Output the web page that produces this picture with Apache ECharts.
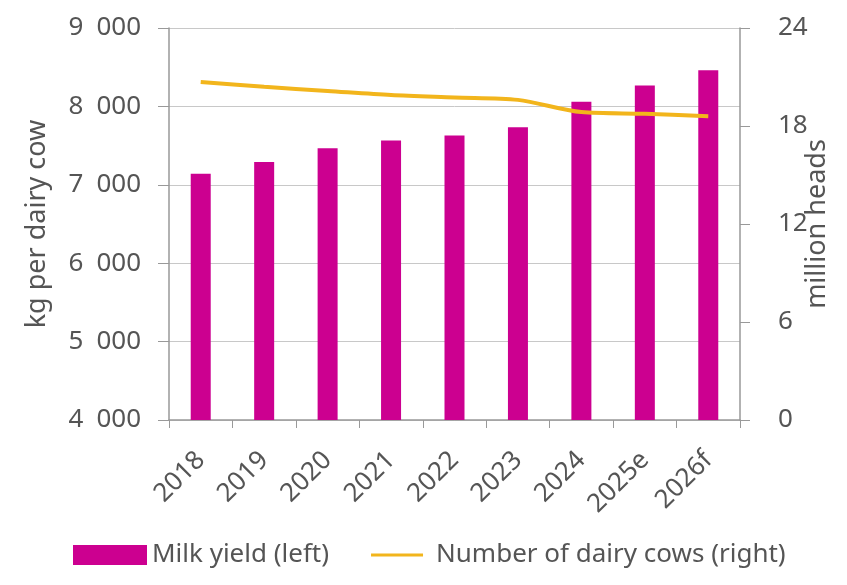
<!DOCTYPE html>
<html>
<head>
<meta charset="utf-8">
<script src="https://cdn.jsdelivr.net/npm/echarts@6/dist/echarts.min.js"></script>
<style>
  html, body { margin: 0; padding: 0; background: #fff; }
  #chart { width: 847px; height: 585px; }
</style>
</head>
<body>
<div id="chart"></div>
<script>
var years = ["2018", "2019", "2020", "2021", "2022", "2023", "2024", "2025e", "2026f"];
var milkYield = [7140, 7290, 7465, 7565, 7630, 7735, 8060, 8265, 8460];
var dairyCows = [20.7, 20.4, 20.15, 19.9, 19.75, 19.6, 18.85, 18.75, 18.6];
var leftTicks = [4000, 9000, 1000];
var rightTicks = [0, 24, 6];

var textColor = "#555";
var axisColor = "#999";
var font = "Noto Sans";

var chart = echarts.init(document.getElementById("chart"));
chart.setOption({
  animation: false,
  textStyle: { fontFamily: font },
  grid: { left: 169, right: 107, top: 28, bottom: 165, outerBoundsMode: "none" },
  legend: {
    left: 68,
    bottom: 12,
    itemWidth: 74,
    itemHeight: 20,
    itemGap: 28,
    itemStyle: { borderWidth: 0 },
    textStyle: { fontSize: 26, color: textColor, fontFamily: font },
    data: [
      { name: "Milk yield (left)", icon: "rect" },
      { name: "Number of dairy cows (right)", icon: "path://M0,0M74,20M14,8.5H66V11.5H14Z" }
    ]
  },
  xAxis: {
    type: "category",
    data: years,
    axisLine: { lineStyle: { color: axisColor, width: 1.5 } },
    axisTick: { show: true, length: 8, lineStyle: { color: axisColor } },
    axisLabel: { rotate: 45, fontSize: 26, color: textColor, margin: 36 }
  },
  yAxis: [
    {
      type: "value",
      min: leftTicks[0],
      max: leftTicks[1],
      interval: leftTicks[2],
      name: "kg per dairy cow",
      nameLocation: "middle",
      nameGap: 118,
      nameMoveOverlap: false,
      nameTextStyle: { fontSize: 27, color: textColor },
      axisLine: { show: true, lineStyle: { color: axisColor, width: 1.5 } },
      axisTick: { show: true, length: 11, lineStyle: { color: axisColor } },
      splitLine: { lineStyle: { color: "#c8c8c8" } },
      axisLabel: {
        fontSize: 26,
        color: textColor,
        margin: 28,
        formatter: function (v) {
          return String(v).replace(/\B(?=(\d{3})+(?!\d))/g, "\u2002");
        }
      }
    },
    {
      type: "value",
      min: rightTicks[0],
      max: rightTicks[1],
      interval: rightTicks[2],
      position: "right",
      name: "million heads",
      nameLocation: "middle",
      nameGap: 64,
      nameRotate: 90,
      nameMoveOverlap: false,
      nameTextStyle: { fontSize: 27, color: textColor },
      axisLine: { show: true, lineStyle: { color: axisColor, width: 1.5 } },
      axisTick: { show: true, length: 10, lineStyle: { color: axisColor } },
      splitLine: { show: false },
      axisLabel: { fontSize: 26, color: textColor, margin: 38 }
    }
  ],
  series: [
    {
      name: "Milk yield (left)",
      type: "bar",
      data: milkYield,
      barWidth: 20,
      itemStyle: { color: "#cc0090" }
    },
    {
      name: "Number of dairy cows (right)",
      type: "line",
      yAxisIndex: 1,
      data: dairyCows,
      smooth: 0.3,
      symbol: "none",
      lineStyle: { color: "#f2b51c", width: 4 },
      itemStyle: { color: "#f2b51c" }
    }
  ]
});
</script>
</body>
</html>
